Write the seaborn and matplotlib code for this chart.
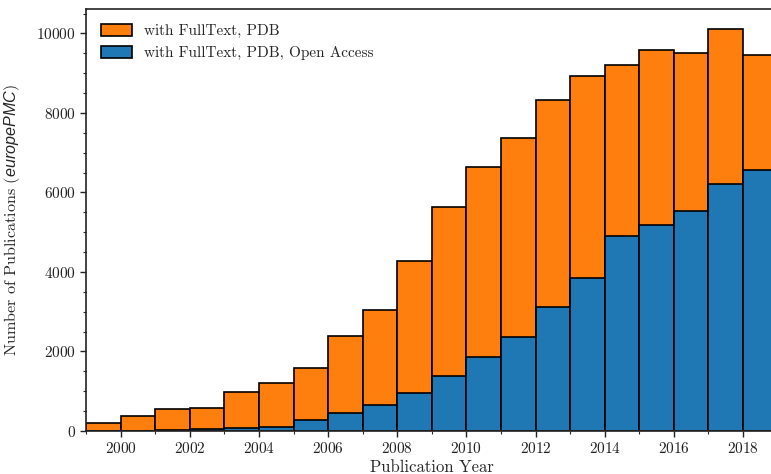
import numpy as np
import pandas as pd
import matplotlib
matplotlib.use("Agg")
import matplotlib.pyplot as plt
import seaborn as sns
from matplotlib.patches import Patch

years = list(range(1999, 2019))
total_fulltext_pdb = [210, 370, 554, 587, 990, 1200, 1594, 2400, 3054, 4288,
                      5640, 6637, 7367, 8331, 8928, 9204, 9582, 9497, 10110, 9446]
open_access = [5, 8, 18, 40, 67, 100, 268, 453, 663, 956,
               1384, 1862, 2358, 3129, 3851, 4916, 5177, 5530, 6225, 6562]
labels = ["with FullText, PDB", "with FullText, PDB, Open Access"]
colors = ["#ff7f0e", "#1f77b4"]

df = pd.DataFrame({"year": years, "total": total_fulltext_pdb, "oa": open_access})

sns.set_style("ticks")
plt.rcParams["font.family"] = ["cmr10", "DejaVu Serif"]
plt.rcParams["mathtext.fontset"] = "custom"
plt.rcParams["mathtext.it"] = "Liberation Sans:italic"
plt.rcParams["mathtext.rm"] = "cmr10"
plt.rcParams["axes.formatter.use_mathtext"] = True
plt.rcParams["font.size"] = 11

fig = plt.figure(figsize=(7.71, 4.74), dpi=100)
ax = fig.add_axes([0.1117, 0.0907, 0.8969, 0.8903])

sns.histplot(data=df, x="year", weights="total", binwidth=1, binrange=(1999, 2019),
             color=colors[0], alpha=1, edgecolor="black", linewidth=1.2, ax=ax)
sns.histplot(data=df, x="year", weights="oa", binwidth=1, binrange=(1999, 2019),
             color=colors[1], alpha=1, edgecolor="black", linewidth=1.2, ax=ax)

ax.set_xlim(1999, 2019)
ax.set_ylim(0, 10615)
ax.set_xticks(range(2000, 2019, 2))
ax.set_xticks(range(1999, 2020), minor=True)
ax.set_yticks(range(0, 10001, 2000))
ax.set_yticks(range(0, 10600, 500), minor=True)
ax.tick_params(axis="both", which="major", direction="out", length=4, width=1, labelsize=11, colors="#222222")
ax.tick_params(axis="both", which="minor", direction="out", length=2.5, width=0.8)
for sp in ax.spines.values():
    sp.set_linewidth(1.2)
    sp.set_color("#222222")

ax.set_xlabel("Publication Year", fontsize=12, labelpad=2.5)
ax.set_ylabel(r"Number of Publications ($\mathit{europePMC}$)", fontsize=11.6, labelpad=10)

handles = [Patch(facecolor=c, edgecolor="black", linewidth=1.2) for c in colors]
ax.legend(handles, labels, loc="upper left", frameon=False, fontsize=11,
          handlelength=2.0, handleheight=0.8, borderaxespad=0.6)

fig.savefig("out.png", dpi=100)
